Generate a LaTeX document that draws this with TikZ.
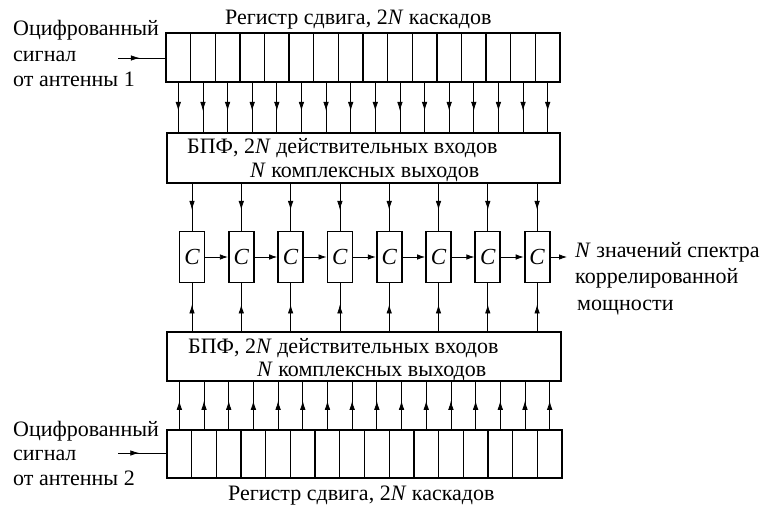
\documentclass[tikz,border=0pt]{standalone}
\usepackage{fontspec}
\setmainfont{Liberation Serif}
\usetikzlibrary{arrows.meta,decorations.markings}
\begin{document}
\begin{tikzpicture}[x=1pt,y=-1pt,
  txt/.style={inner sep=0pt, anchor=base west, font=\fontsize{22}{26}\selectfont},
  cell/.style={draw, line width=1.3pt, inner sep=0pt},
  fft/.style={draw, line width=1.4pt, inner sep=0pt, minimum height=49pt},
  cbox/.style={draw, line width=1.8pt, inner sep=0pt, minimum width=25pt, minimum height=51pt, font=\fontsize{23}{26}\selectfont\itshape},
  conn/.style={line width=0.8pt},
  midarrow/.style={conn, decoration={markings, mark=at position #1 with {\arrow{Latex[length=9pt,width=5.5pt]}}}, postaction={decorate}},
  midarrow/.default=0.58,
  endarrow/.style={conn, -{Latex[length=8pt,width=5.5pt]}}
]
\useasboundingbox (0,0) rectangle (768,506);

% top register
\foreach \i in {1,...,16}
  \node[cell, minimum width=24.625pt, minimum height=49pt] (ra\i) at ({166+24.625*(\i-0.5)},57.5) {};
% bottom register
\foreach \i in {1,...,16}
  \node[cell, minimum width=24.6875pt, minimum height=48pt] (rb\i) at ({167+24.6875*(\i-0.5)},454) {};

% FFT boxes
\node[fft, minimum width=393pt, minimum height=50pt] (fa) at (363.5,158) {};
\node[fft, minimum width=394pt, minimum height=49pt] (fb) at (364,356.5) {};

% FFT texts
\node[txt] (fat1) at (187,153) {БПФ, 2\textit{N} действительных входов};
\node[txt] (fat2) at (250,177) {\textit{N} комплексных выходов};
\node[txt] (fbt1) at (188,353) {БПФ, 2\textit{N} действительных входов};
\node[txt] (fbt2) at (257,376) {\textit{N} комплексных выходов};

% C boxes
\foreach \k in {1,...,8}
  \node[cbox] (c\k) at ({192+49.3*(\k-1)},257) {C};

% register -> FFT arrows
\foreach \i in {1,...,16} {
  \draw[midarrow=0.57] (ra\i.south) -- (ra\i.south |- fa.north);
  \draw[midarrow=0.6] (rb\i.north) -- (rb\i.north |- fb.south);
}
% FFT -> C arrows
\foreach \k in {1,...,8} {
  \draw[midarrow=0.56] (c\k.north |- fa.south) -- (c\k.north);
  \draw[midarrow=0.56] (c\k.south |- fb.north) -- (c\k.south);
}
% chain
\foreach \k [evaluate=\k as \n using int(\k+1)] in {1,...,7}
  \draw[endarrow] (c\k.east) -- (c\n.west);
\coordinate (outend) at (567,257);
\draw[endarrow] (c8.east) -- (outend);

% inputs
\coordinate (ina) at (118,58);
\coordinate (inb) at (118,453);
\draw[midarrow=0.46] (ina) -- (ina -| ra1.west);
\draw[midarrow=0.44] (inb) -- (inb -| rb1.west);

% labels
\node[txt] (ta) at (225,24) {Регистр сдвига, 2\textit{N} каскадов};
\node[txt] (tb) at (228,500) {Регистр сдвига, 2\textit{N} каскадов};
\node[txt] (la1) at (13,35) {Оцифрованный};
\node[txt] (la2) at (13,61) {сигнал};
\node[txt] (la3) at (13,86) {от антенны 1};
\node[txt] (lb1) at (13,436) {Оцифрованный};
\node[txt] (lb2) at (13,460) {сигнал};
\node[txt] (lb3) at (13,485) {от антенны 2};
\node[txt] (o1) at (575,257) {\textit{N} значений спектра};
\node[txt] (o2) at (575,283) {коррелированной};
\node[txt] (o3) at (577,310) {мощности};
\end{tikzpicture}
\end{document}
